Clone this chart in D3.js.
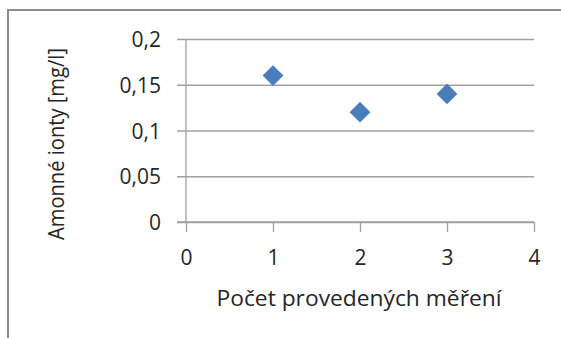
<!DOCTYPE html>
<html>
<head>
<meta charset="utf-8">
<script src="https://cdn.jsdelivr.net/npm/d3@7"></script>
<style>
  body { margin: 0; background: #fff; }
  text { font-family: "Open Sans", "Noto Sans", sans-serif; fill: #262626; }
</style>
</head>
<body>
<div id="chart"></div>
<script>
const measurements = [1, 2, 3];
const ammonium = [0.16, 0.12, 0.14];
const xTicks = [0, 1, 2, 3, 4];
const yTicks = [0, 0.05, 0.1, 0.15, 0.2];
const xTitle = "Počet provedených měření";
const yTitle = "Amonné ionty [mg/l]";

const width = 561, height = 338;
const margin = {top: 39, right: 27, bottom: 116, left: 186};
const fontSize = "21px";

const svg = d3.select("#chart").append("svg")
    .attr("width", width)
    .attr("height", height);

// chart frame (right and bottom edges fall outside the crop)
svg.append("rect")
    .attr("x", 8).attr("y", 10)
    .attr("width", 600).attr("height", 400)
    .attr("fill", "none")
    .attr("stroke", "#8c8c8c")
    .attr("stroke-width", 2);

const x = d3.scaleLinear().domain([0, 4]).range([margin.left, width - margin.right]);
const y = d3.scaleLinear().domain([0, 0.2]).range([height - margin.bottom, margin.top]);

const fmt = d => d3.format("")(d).replace(".", ",");

// horizontal gridlines with left tick marks
const yAxis = svg.append("g")
    .attr("transform", `translate(${margin.left},0)`)
    .call(d3.axisLeft(y).tickValues(yTicks).tickFormat(fmt)
        .tickSize(-(x(4) - margin.left)).tickPadding(15));
yAxis.select(".domain").remove();
yAxis.selectAll(".tick line").attr("x1", -9).attr("stroke", "#a0a0a0").attr("stroke-width", 1.3);
yAxis.selectAll(".tick text").style("font-size", fontSize).attr("x", -25).attr("dy", "0.36em");

// vertical axis line
svg.append("line")
    .attr("x1", x(0)).attr("x2", x(0))
    .attr("y1", y(0.2)).attr("y2", y(0))
    .attr("stroke", "#a0a0a0").attr("stroke-width", 1.3);

const xAxis = svg.append("g")
    .attr("transform", `translate(0,${y(0)})`)
    .call(d3.axisBottom(x).tickValues(xTicks).tickFormat(d => d).tickSize(10).tickPadding(18));
xAxis.select(".domain").remove();
xAxis.selectAll(".tick line").attr("stroke", "#a0a0a0").attr("stroke-width", 1.3);
xAxis.selectAll(".tick text").style("font-size", fontSize);

svg.append("line")
    .attr("x1", x(0) - 9).attr("x2", x(4))
    .attr("y1", y(0)).attr("y2", y(0))
    .attr("stroke", "#a0a0a0").attr("stroke-width", 1.3);

// axis titles
svg.append("text")
    .attr("x", 359).attr("y", 306)
    .attr("text-anchor", "middle")
    .style("font-size", fontSize)
    .attr("textLength", 285).attr("lengthAdjust", "spacingAndGlyphs")
    .text(xTitle);

svg.append("text")
    .attr("transform", "translate(64,144) rotate(-90)")
    .attr("text-anchor", "middle")
    .style("font-size", fontSize)
    .attr("textLength", 192).attr("lengthAdjust", "spacingAndGlyphs")
    .text(yTitle);

// diamond markers
const diamond = d3.symbol(d3.symbolSquare, 215);
svg.selectAll(".pt")
    .data(measurements.map((m, i) => ({m, v: ammonium[i]})))
    .join("path")
    .attr("class", "pt")
    .attr("d", diamond)
    .attr("transform", d => `translate(${x(d.m)},${y(d.v)}) rotate(45)`)
    .attr("fill", "#4a7ebb");
</script>
</body>
</html>
